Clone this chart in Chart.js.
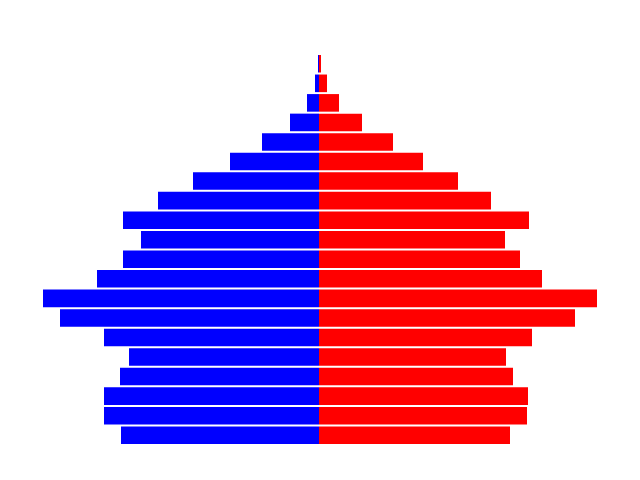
<!DOCTYPE html>
<html>
<head>
<meta charset="utf-8">
<script src="https://cdn.jsdelivr.net/npm/chart.js@4"></script>
<style>
html,body{margin:0;padding:0;background:#fff;}
#wrap{width:640px;height:480px;}
</style>
</head>
<body>
<div id="wrap"><canvas id="c" width="640" height="480"></canvas></div>
<script>
// Age groups, oldest at top
const ageGroups = ['95-99','90-94','85-89','80-84','75-79','70-74','65-69','60-64','55-59','50-54',
                   '45-49','40-44','35-39','30-34','25-29','20-24','15-19','10-14','5-9','0-4'];
// Population (arbitrary units)
const male   = [1, 4, 12, 29, 57, 89, 126, 161, 196, 178, 196, 222, 276, 259, 215, 190, 199, 215, 215, 198];
const female = [2, 8, 20, 43, 74, 104, 139, 172, 210, 186, 201, 223, 278, 256, 213, 187, 194, 209, 208, 191];
const xMin = -319, xMax = 321;

new Chart(document.getElementById('c'), {
  type: 'bar',
  data: {
    labels: ageGroups,
    datasets: [
      { label: 'Male', data: male.map(v => -v), backgroundColor: '#0000ff', borderWidth: 0,
        barPercentage: 0.9, categoryPercentage: 1.0 },
      { label: 'Female', data: female, backgroundColor: '#ff0000', borderWidth: 0,
        barPercentage: 0.9, categoryPercentage: 1.0 }
    ]
  },
  options: {
    indexAxis: 'y',
    responsive: false,
    animation: false,
    devicePixelRatio: 1,
    layout: { padding: { top: 54, bottom: 35, left: 0, right: 0 } },
    plugins: { legend: { display: false }, tooltip: { enabled: false } },
    scales: {
      x: { stacked: true, display: false, min: xMin, max: xMax },
      y: { stacked: true, display: false }
    }
  }
});
</script>
</body>
</html>
